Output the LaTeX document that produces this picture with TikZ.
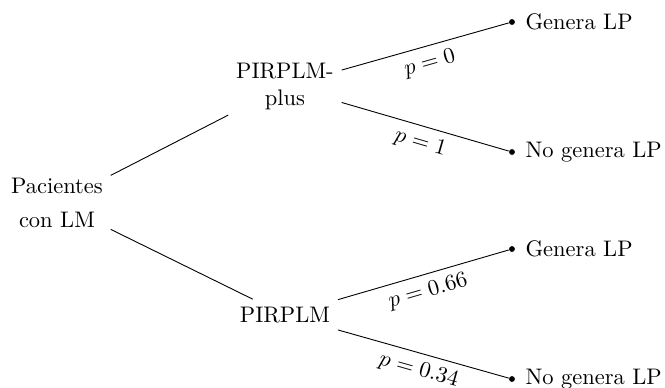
\documentclass[tikz,border=0pt]{standalone}
\usepackage{amsmath}
\usepackage{tikz}
\usetikzlibrary{positioning}

\begin{document}
\begin{tikzpicture}[
    hoja/.style={circle,fill,inner sep=0pt,minimum size=2.6pt},
    prob/.style={midway,below,sloped}]
  \useasboundingbox (-0.89,-2.906) rectangle (9.5,3.141);
  % nodos del arbol
  \node[align=center] (pac) at (0,-0.03) {Pacientes\\[3pt]con LM};
  \node[align=center] (plus) at (3.5625,1.797) {PIRPLM-\\plus};
  \node (pir) at (3.5625,-1.781) {PIRPLM};
  \node[hoja,label={[label distance=1pt]right:Genera LP}] (g1) at (7.109,2.797) {};
  \node[hoja,label={[label distance=1pt]right:No genera LP}] (n1) at (7.109,0.766) {};
  \node[hoja,label={[label distance=1pt]right:Genera LP}] (g2) at (7.109,-0.75) {};
  \node[hoja,label={[label distance=1pt]right:No genera LP}] (n2) at (7.109,-2.781) {};
  % ramas
  \draw (pac) -- (plus);
  \draw (pac) -- (pir);
  \draw (plus) -- (g1) node[prob]{$p=0$};
  \draw (plus) -- (n1) node[prob]{$p=1$};
  \draw (pir) -- (g2) node[prob]{$p=0.66$};
  \draw (pir) -- (n2) node[prob]{$p=0.34$};
\end{tikzpicture}
\end{document}
